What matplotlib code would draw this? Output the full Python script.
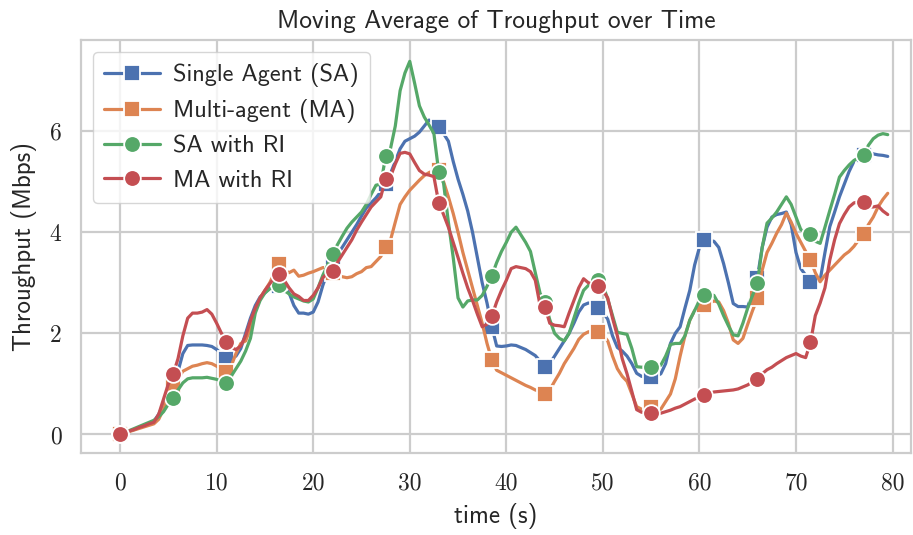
import numpy as np
import matplotlib
matplotlib.use("Agg")
import matplotlib.pyplot as plt
import seaborn as sns

# ---------------- data (sampled every 0.5 s) ----------------
time_step = 0.5
sa = [0, 0.03, 0.07, 0.1, 0.14, 0.18, 0.22, 0.26, 0.4, 0.6,
      0.85, 1.0, 1.25, 1.6, 1.76, 1.77, 1.77, 1.77, 1.76, 1.74,
      1.68, 1.6, 1.49, 1.5, 1.55, 1.7, 2.0, 2.3, 2.55, 2.72,
      2.8, 2.9, 2.95, 2.93, 2.9, 2.8, 2.55, 2.4, 2.4, 2.38,
      2.42, 2.62, 2.95, 3.22, 3.4, 3.55, 3.7, 3.85, 4.0, 4.15,
      4.32, 4.48, 4.58, 4.68, 4.8, 4.95, 5.16, 5.4, 5.65, 5.8,
      5.85, 5.9, 5.98, 6.1, 6.22, 6.15, 6.08, 5.95, 5.8, 5.4,
      5.05, 4.75, 4.42, 4.0, 3.5, 3.0, 2.6, 2.13, 1.75, 1.74,
      1.75, 1.77, 1.76, 1.72, 1.68, 1.62, 1.56, 1.45, 1.33, 1.4,
      1.55, 1.7, 1.85, 2.0, 2.2, 2.42, 2.56, 2.6, 2.58, 2.51,
      2.42, 2.28, 1.95, 1.72, 1.65, 1.55, 1.4, 1.21, 1.15, 1.14,
      1.14, 1.15, 1.2, 1.4, 1.8, 2.0, 2.13, 2.5, 2.85, 3.35,
      3.7, 3.84, 3.84, 3.82, 3.7, 3.38, 3.0, 2.59, 2.53, 2.53,
      2.52, 2.8, 3.1, 3.7, 4.1, 4.3, 4.35, 4.37, 4.4, 4.15,
      3.6, 3.28, 3.15, 3.02, 3.02, 3.05, 3.6, 4.11, 4.4, 4.7,
      4.95, 5.2, 5.4, 5.48, 5.52, 5.56, 5.55, 5.53, 5.52, 5.5]

ma = [0, 0.03, 0.06, 0.09, 0.12, 0.15, 0.18, 0.21, 0.3, 0.5,
      0.8, 0.95, 1.1, 1.25, 1.3, 1.35, 1.37, 1.4, 1.42, 1.4,
      1.35, 1.3, 1.23, 1.35, 1.6, 1.8, 1.85, 2.1, 2.45, 2.7,
      2.85, 3.0, 3.2, 3.37, 3.25, 3.2, 3.25, 3.13, 3.15, 3.19,
      3.22, 3.26, 3.3, 3.3, 3.2, 3.1, 3.12, 3.1, 3.12, 3.18,
      3.22, 3.3, 3.32, 3.42, 3.52, 3.71, 3.84, 4.2, 4.55, 4.7,
      4.83, 4.93, 5.03, 5.12, 5.18, 5.22, 5.24, 5.0, 4.7, 4.37,
      4.0, 3.6, 3.25, 2.9, 2.55, 2.2, 1.8, 1.47, 1.27, 1.22,
      1.17, 1.12, 1.07, 1.02, 0.97, 0.93, 0.88, 0.85, 0.8, 0.88,
      1.05, 1.21, 1.4, 1.55, 1.7, 1.88, 1.98, 2.03, 2.04, 2.03,
      1.97, 1.85, 1.55, 1.3, 1.15, 1.05, 0.8, 0.55, 0.5, 0.5,
      0.55, 0.5, 0.5, 0.65, 0.8, 1.1, 1.55, 1.95, 2.26, 2.45,
      2.52, 2.56, 2.6, 2.64, 2.62, 2.45, 2.2, 1.87, 1.8, 1.9,
      2.18, 2.45, 2.69, 3.25, 3.6, 3.78, 3.98, 4.15, 4.38, 4.2,
      3.98, 3.8, 3.62, 3.45, 3.2, 3.02, 3.15, 3.25, 3.35, 3.45,
      3.55, 3.62, 3.72, 3.85, 3.97, 4.15, 4.3, 4.5, 4.65, 4.77]

sa_ri = [0, 0.04, 0.08, 0.12, 0.16, 0.2, 0.24, 0.28, 0.35, 0.45,
         0.6, 0.73, 0.88, 1.02, 1.1, 1.12, 1.12, 1.12, 1.13, 1.11,
         1.09, 1.05, 1.01, 1.15, 1.3, 1.45, 1.65, 1.9, 2.4, 2.65,
         2.8, 2.88, 2.92, 2.96, 2.85, 2.78, 2.72, 2.68, 2.64, 2.62,
         2.68, 2.9, 3.15, 3.35, 3.57, 3.75, 3.92, 4.08, 4.2, 4.3,
         4.4, 4.55, 4.75, 4.93, 4.95, 5.5, 5.65, 6.1, 6.8, 7.15,
         7.38, 6.95, 6.5, 6.28, 6.12, 5.95, 5.19, 4.97, 4.2, 3.5,
         2.7, 2.52, 2.64, 2.66, 2.66, 2.75, 2.93, 3.14, 3.4, 3.62,
         3.8, 4.0, 4.1, 3.95, 3.8, 3.62, 3.2, 2.79, 2.62, 2.27,
         2.0, 1.9, 1.85, 2.0, 2.3, 2.6, 2.85, 2.95, 3.05, 3.05,
         2.95, 2.68, 2.35, 2.02, 2.0, 1.98, 1.7, 1.34, 1.33, 1.33,
         1.33, 1.35, 1.37, 1.55, 1.78, 1.8, 1.8, 1.95, 2.26, 2.45,
         2.65, 2.76, 2.77, 2.75, 2.58, 2.35, 2.15, 1.97, 1.95, 2.2,
         2.5, 2.75, 2.99, 3.7, 4.18, 4.28, 4.4, 4.55, 4.7, 4.55,
         4.3, 4.05, 4.0, 3.97, 3.82, 3.78, 4.1, 4.43, 4.75, 5.09,
         5.22, 5.33, 5.42, 5.47, 5.52, 5.72, 5.85, 5.92, 5.95, 5.93]

ma_ri = [0, 0.03, 0.07, 0.1, 0.14, 0.17, 0.21, 0.24, 0.4, 0.7,
         1.0, 1.19, 1.5, 1.95, 2.3, 2.4, 2.4, 2.42, 2.47, 2.38,
         2.2, 2.0, 1.83, 1.72, 1.68, 1.75, 1.95, 2.25, 2.5, 2.7,
         2.85, 2.98, 3.1, 3.18, 3.05, 2.9, 2.78, 2.73, 2.65, 2.65,
         2.75, 2.9, 3.1, 3.19, 3.24, 3.4, 3.55, 3.7, 3.85, 4.04,
         4.2, 4.35, 4.5, 4.6, 4.7, 5.06, 5.1, 5.35, 5.56, 5.58,
         5.55, 5.38, 5.22, 5.15, 5.13, 5.1, 4.58, 4.35, 4.1, 3.8,
         3.5, 3.19, 2.9, 2.65, 2.38, 2.13, 2.18, 2.34, 2.62, 2.85,
         3.05, 3.28, 3.32, 3.3, 3.28, 3.22, 3.05, 2.55, 2.52, 2.2,
         2.16, 2.15, 2.13, 2.4, 2.65, 2.9, 3.08, 3.0, 2.97, 2.94,
         2.85, 2.7, 2.3, 1.95, 1.5, 1.2, 0.85, 0.49, 0.44, 0.43,
         0.42, 0.42, 0.42, 0.45, 0.48, 0.52, 0.55, 0.6, 0.65, 0.7,
         0.74, 0.78, 0.81, 0.84, 0.85, 0.86, 0.87, 0.88, 0.9, 0.94,
         0.98, 1.04, 1.1, 1.2, 1.28, 1.33, 1.4, 1.46, 1.52, 1.56,
         1.6, 1.55, 1.52, 1.82, 2.35, 2.6, 2.9, 3.45, 3.85, 4.17,
         4.35, 4.5, 4.58, 4.6, 4.6, 4.5, 4.5, 4.52, 4.42, 4.35]

labels = ["Single Agent (SA)", "Multi-agent (MA)", "SA with RI", "MA with RI"]
markers = ["s", "s", "o", "o"]
title = "Moving Average of Troughput over Time"
xlabel = "time (s)"
ylabel = "Throughput (Mbps)"
xticks = [0, 10, 20, 30, 40, 50, 60, 70, 80]
yticks = [0, 2, 4, 6]

# ---------------- style ----------------
sns.set_theme(style="whitegrid")
plt.rcParams["font.family"] = ["cmss10", "DejaVu Sans"]
plt.rcParams["axes.unicode_minus"] = False
colors = sns.color_palette("deep", 4)

fig = plt.figure(figsize=(9.13, 5.35), dpi=100)
ax = fig.add_axes([0.0887, 0.153, 0.909, 0.772])

t = np.arange(len(sa)) * time_step
for series, lab, mk, col in zip([sa, ma, sa_ri, ma_ri], labels, markers, colors):
    ax.plot(t, series, color=col, lw=2.3, marker=mk, markersize=12,
            markevery=11, markeredgecolor="white", markeredgewidth=1.3,
            label=lab)

ax.set_xlim(-4.05, 81.9)
ax.set_ylim(-0.37, 7.8)
ax.set_xticks(xticks)
ax.set_yticks(yticks)
ax.set_xticklabels([str(v) for v in xticks], family="cmr10", fontsize=17)
ax.set_yticklabels([str(v) for v in yticks], family="cmr10", fontsize=17)
ax.tick_params(axis="both", length=0, pad=14)

ax.grid(True, color="#cccccc", lw=1.6)
for s in ax.spines.values():
    s.set_color("#cccccc")
    s.set_linewidth(1.6)

ax.set_title(title, fontsize=18.3, pad=9)
ax.set_xlabel(xlabel, fontsize=18, labelpad=6)
ax.set_ylabel(ylabel, fontsize=18, labelpad=9)

leg = ax.legend(loc="upper left", fontsize=17.5, handlelength=2.3,
                borderpad=0.45, labelspacing=0.5, handletextpad=0.55,
                framealpha=0.8, edgecolor="#cccccc")

fig.savefig("out.png", dpi=100)
